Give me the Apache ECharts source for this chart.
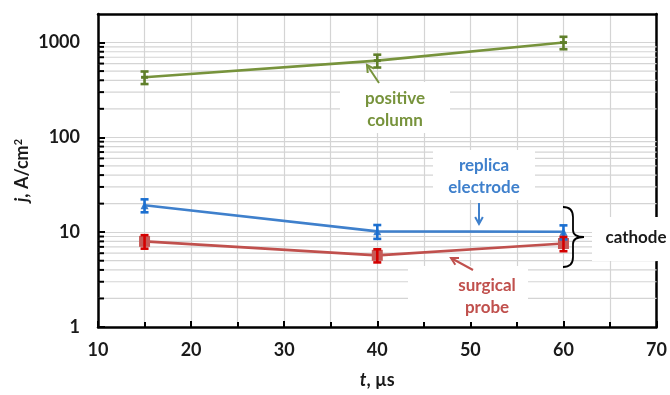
<!DOCTYPE html>
<html>
<head>
<meta charset="utf-8">
<script src="https://cdn.jsdelivr.net/npm/echarts@6/dist/echarts.min.js"></script>
<style>
  html, body { margin: 0; padding: 0; background: #fff; }
  #chart { width: 670px; height: 395px; }
</style>
</head>
<body>
<div id="chart"></div>
<script>
// Pulse duration, µs
const times = [15, 40, 60];

// Current density, A/cm², with error half-widths
const positiveColumn = [430, 645, 1000];
const positiveColumnErr = [65, 100, 150];
const replicaElectrode = [19.2, 10.2, 10.1];
const replicaElectrodeErr = [3.0, 1.7, 1.7];
const surgicalProbe = [8.0, 5.7, 7.6];
const surgicalProbeErr = [1.3, 0.9, 1.3];

// Log-axis minor grid values (2..9 in each decade)
const minorGridValues = [2, 3, 4, 5, 6, 7, 8, 9, 20, 30, 40, 50, 60, 70, 80, 90, 200, 300, 400, 500, 600, 700, 800, 900];

const FONT = 'Lato, "Open Sans", sans-serif';
const GREEN = '#77933c', GREEN_DARK = '#5f7f2a';
const BLUE = '#3f80cc', BLUE_DARK = '#1b6fd0';
const RED = '#c0504d', RED_DARK = '#d40000';
const GRID_GRAY = '#d4d4d4';

function pairs(vals) { return times.map((t, i) => [t, vals[i]]); }
function errData(vals, errs) { return times.map((t, i) => [t, vals[i] - errs[i], vals[i] + errs[i]]); }

function errorBarSeries(vals, errs, color) {
  return {
    type: 'custom',
    z: 4,
    data: errData(vals, errs),
    encode: { x: 0, y: [1, 2] },
    renderItem: function (params, api) {
      const lo = api.coord([api.value(0), api.value(1)]);
      const hi = api.coord([api.value(0), api.value(2)]);
      const w = 4;
      const st = { stroke: color, lineWidth: 2.6 };
      return {
        type: 'group',
        children: [
          { type: 'line', shape: { x1: hi[0], y1: hi[1], x2: lo[0], y2: lo[1] }, style: st },
          { type: 'line', shape: { x1: hi[0] - w, y1: hi[1], x2: hi[0] + w, y2: hi[1] }, style: st },
          { type: 'line', shape: { x1: lo[0] - w, y1: lo[1], x2: lo[0] + w, y2: lo[1] }, style: st }
        ]
      };
    }
  };
}

const TOP_Z = 100;

function arrow(x1, y1, x2, y2, color) {
  const ang = Math.atan2(y2 - y1, x2 - x1);
  const L = 8, A = 0.5;
  const p1 = [x2 - L * Math.cos(ang - A), y2 - L * Math.sin(ang - A)];
  const p2 = [x2 - L * Math.cos(ang + A), y2 - L * Math.sin(ang + A)];
  return [
    { type: 'line', z: TOP_Z + 2, shape: { x1: x1, y1: y1, x2: x2, y2: y2 }, style: { stroke: color, lineWidth: 2 } },
    { type: 'polyline', z: TOP_Z + 2, shape: { points: [p1, [x2, y2], p2] }, style: { stroke: color, lineWidth: 2, fill: null } }
  ];
}

function labelBox(x, y, w, h, text, color, cx, cy) {
  return [
    { type: 'rect', z: TOP_Z, shape: { x: x, y: y, width: w, height: h }, style: { fill: '#fff' } },
    {
      type: 'text', z: TOP_Z + 1, x: cx, y: cy,
      style: {
        text: text, fill: color, font: 'bold 17px ' + FONT,
        align: 'center', verticalAlign: 'middle', lineHeight: 22
      }
    }
  ];
}

// curly brace grouping the two cathode curves
function brace(x, yTop, yBot, depth) {
  const ym = (yTop + yBot) / 2;
  const xs = x + 10;
  const st = { stroke: '#000', lineWidth: 1.8, fill: null };
  const z = TOP_Z + 2;
  return [
    { type: 'bezierCurve', z: z, shape: { x1: x, y1: yTop, cpx1: xs, cpy1: yTop, x2: xs, y2: yTop + 10 }, style: st },
    { type: 'line', z: z, shape: { x1: xs, y1: yTop + 10, x2: xs, y2: ym - 7 }, style: st },
    { type: 'bezierCurve', z: z, shape: { x1: xs, y1: ym - 7, cpx1: xs, cpy1: ym, x2: xs + depth, y2: ym }, style: st },
    { type: 'bezierCurve', z: z, shape: { x1: xs + depth, y1: ym, cpx1: xs, cpy1: ym, x2: xs, y2: ym + 7 }, style: st },
    { type: 'line', z: z, shape: { x1: xs, y1: ym + 7, x2: xs, y2: yBot - 10 }, style: st },
    { type: 'bezierCurve', z: z, shape: { x1: xs, y1: yBot - 10, cpx1: xs, cpy1: yBot, x2: x, y2: yBot }, style: st }
  ];
}

const axisText = { color: '#1a1a1a', fontFamily: FONT, fontSize: 18, fontWeight: 'bold' };

const chart = echarts.init(document.getElementById('chart'));

chart.setOption({
  animation: false,
  backgroundColor: '#fff',
  grid: { left: 98, right: 10, top: 14, bottom: 68 },
  xAxis: [
    {
      type: 'value', min: 10, max: 70, interval: 10,
      name: '{i|t}, µs', nameLocation: 'middle', nameGap: 44,
      nameTextStyle: Object.assign({}, axisText, {
        rich: { i: Object.assign({}, axisText, { fontStyle: 'italic' }) }
      }),
      axisLine: { lineStyle: { color: '#000', width: 2.5 } },
      axisTick: { inside: true, length: 6, lineStyle: { color: '#000', width: 2 } },
      minorTick: { show: true, splitNumber: 2, length: 5, lineStyle: { color: '#000', width: 2 } },
      splitLine: { show: true, lineStyle: { color: GRID_GRAY, width: 1.2 } },
      minorSplitLine: { show: true, lineStyle: { color: GRID_GRAY, width: 1.2 } },
      axisLabel: Object.assign({}, axisText, { margin: 14 })
    },
    {
      // top frame line
      type: 'value', position: 'top', min: 10, max: 70,
      axisLine: { show: true, lineStyle: { color: '#000', width: 2.5 } },
      axisTick: { show: false }, axisLabel: { show: false }, splitLine: { show: false }
    }
  ],
  yAxis: [
    {
      type: 'log', logBase: 10, min: 1, max: 2000,
      name: '{i|j}, A/cm{sup|2}', nameLocation: 'middle', nameGap: 66, nameMoveOverlap: false,
      nameTextStyle: Object.assign({}, axisText, {
        rich: {
          i: Object.assign({}, axisText, { fontStyle: 'italic' }),
          sup: Object.assign({}, axisText, { fontSize: 11, verticalAlign: 'top', padding: [0, 0, 8, 0] })
        }
      }),
      axisLine: { show: true, lineStyle: { color: '#000', width: 2.5 } },
      axisTick: { inside: true, length: 7, lineStyle: { color: '#000', width: 2 } },
      splitLine: { show: true, lineStyle: { color: GRID_GRAY, width: 1.2 } },
      axisLabel: Object.assign({}, axisText, {
        margin: 18, showMaxLabel: false,
        formatter: function (v) { return String(Math.round(v)); }
      })
    },
    {
      // right frame line
      type: 'value', position: 'right', min: 0, max: 1,
      axisLine: { show: true, lineStyle: { color: '#000', width: 2.5 } },
      axisTick: { show: false }, axisLabel: { show: false }, splitLine: { show: false }
    }
  ],
  series: [
    {
      // minor gridlines and inside minor ticks of the log axis
      type: 'custom', z: 1, silent: true,
      data: minorGridValues.map(v => [10, v]),
      encode: { x: 0, y: 1 },
      renderItem: function (params, api) {
        const v = api.value(1);
        const a = api.coord([10, v]);
        const b = api.coord([70, v]);
        return {
          type: 'group',
          children: [
            { type: 'line', shape: { x1: a[0], y1: a[1], x2: b[0], y2: b[1] }, style: { stroke: GRID_GRAY, lineWidth: 1.2 } },
            { type: 'line', shape: { x1: a[0], y1: a[1], x2: a[0] + 6, y2: a[1] }, style: { stroke: '#000', lineWidth: 2 } }
          ]
        };
      }
    },
    {
      name: 'positive column', type: 'line', z: 3, data: pairs(positiveColumn),
      symbol: 'rect', symbolSize: [7, 3],
      lineStyle: { color: GREEN, width: 2.6 }, itemStyle: { color: GREEN_DARK }
    },
    {
      name: 'replica electrode', type: 'line', z: 3, data: pairs(replicaElectrode),
      symbol: 'triangle', symbolSize: 8,
      lineStyle: { color: BLUE, width: 2.6 }, itemStyle: { color: BLUE }
    },
    {
      name: 'surgical probe', type: 'line', z: 3, data: pairs(surgicalProbe),
      symbol: 'rect', symbolSize: 11,
      lineStyle: { color: RED, width: 2.6 }, itemStyle: { color: '#c65a57' }
    },
    errorBarSeries(positiveColumn, positiveColumnErr, GREEN_DARK),
    errorBarSeries(replicaElectrode, replicaElectrodeErr, BLUE_DARK),
    errorBarSeries(surgicalProbe, surgicalProbeErr, RED_DARK)
  ],
  graphic: [].concat(
    labelBox(340, 82, 110, 51, 'positive\ncolumn', GREEN, 395, 110),
    arrow(379, 83, 367, 65, GREEN),
    labelBox(433, 150, 102, 50, 'replica\nelectrode', BLUE, 484, 177),
    arrow(479, 203, 479, 224, BLUE),
    labelBox(408, 266, 120, 56, 'surgical\nprobe', RED, 487, 297),
    arrow(473, 270, 451, 258, RED),
    labelBox(592, 217, 78, 44, 'cathode', '#1a1a1a', 636, 238),
    brace(563, 207, 267, 11)
  )
});
</script>
</body>
</html>
